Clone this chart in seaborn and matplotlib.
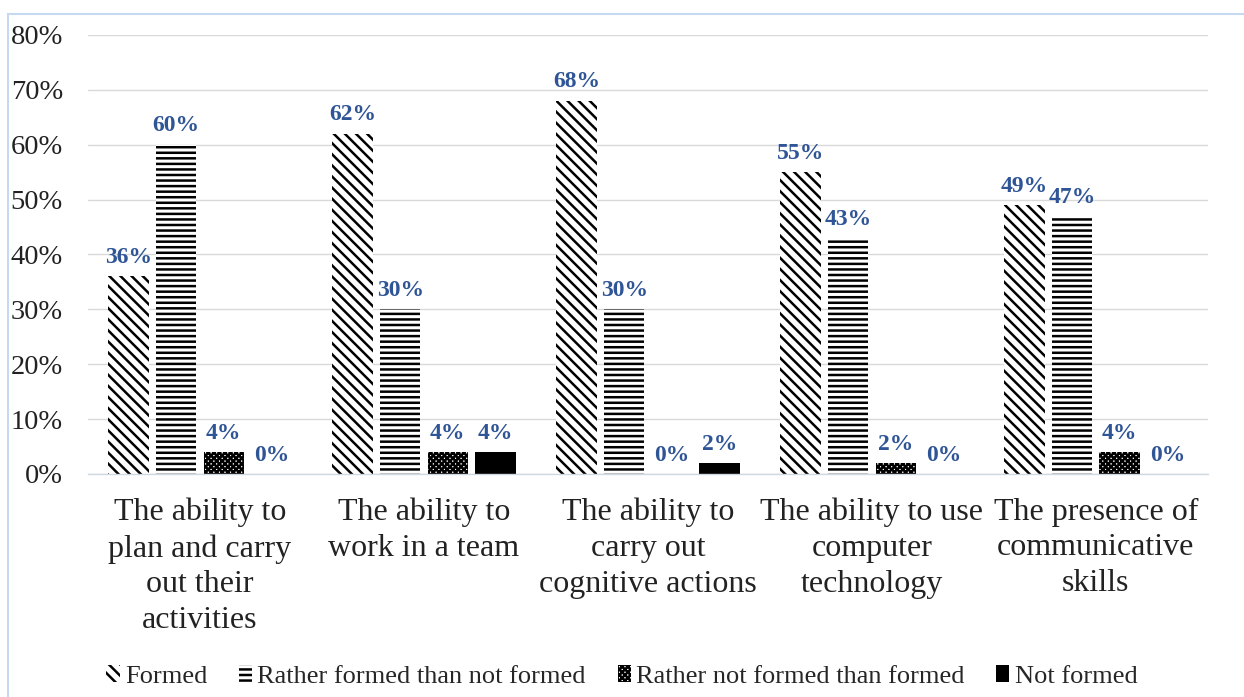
import matplotlib
matplotlib.use("Agg")
import matplotlib.pyplot as plt
import seaborn as sns
import pandas as pd
from matplotlib.patches import Rectangle, Patch
from matplotlib.ticker import FuncFormatter

categories = [
    "The ability to\nplan and carry\nout their\nactivities",
    "The ability to\nwork in a team",
    "The ability to\ncarry out\ncognitive actions",
    "The ability to use\ncomputer\ntechnology",
    "The presence of\ncommunicative\nskills",
]
series = ["Formed", "Rather formed than not formed",
          "Rather not formed than formed", "Not formed"]
formed = [36, 62, 68, 55, 49]
rather_formed = [60, 30, 30, 43, 47]
rather_not = [4, 4, 0, 2, 4]
not_formed = [0, 4, 2, 0, 0]
yticks = [0, 10, 20, 30, 40, 50, 60, 70, 80]

rows = []
for s, vals in zip(series, [formed, rather_formed, rather_not, not_formed]):
    for c, v in zip(categories, vals):
        rows.append({"category": c, "series": s, "value": v})
df = pd.DataFrame(rows)

sns.set_style("white")
plt.rcParams["font.family"] = ["Liberation Serif", "DejaVu Serif"]
plt.rcParams["hatch.linewidth"] = 1.8

fig = plt.figure(figsize=(12.44, 6.97), dpi=100)
ax = fig.add_axes([0.0707, 0.320, 0.9003, 0.630])

palette = {series[0]: "white", series[1]: "white", series[2]: "white", series[3]: "black"}
sns.barplot(data=df, x="category", y="value", hue="series", hue_order=series,
            order=categories, palette=palette, ax=ax, width=0.85, gap=0.15,
            edgecolor="black", linewidth=0, saturation=1, legend=False)

hatches = ["\\\\\\", "---", "xxxxxx", None]
for cont, h in zip(ax.containers, hatches):
    for bar in cont:
        if h:
            bar.set_hatch(h)
        bar.set_edgecolor("black")
        bar.set_linewidth(0)
    ax.bar_label(cont, labels=[f"{int(round(b.get_height()))}%" for b in cont],
                 padding=6, color="#2F5597", fontsize=17, fontweight="bold")

ax.set_ylim(0, 80)
ax.set_yticks(yticks)
ax.yaxis.set_major_formatter(FuncFormatter(lambda v, p: f"{int(v)}%"))
ax.grid(axis="y", color="#D9D9D9", linewidth=1)
ax.set_axisbelow(True)
for sp in ["top", "right", "left"]:
    ax.spines[sp].set_visible(False)
ax.spines["bottom"].set_color("#D0D8E2")
ax.spines["bottom"].set_linewidth(1)
ax.set_xlabel("")
ax.set_ylabel("")
ax.tick_params(axis="y", labelsize=20.5, pad=18, length=0, colors="#222222")
ax.tick_params(axis="x", labelsize=23, pad=17, length=0, colors="#222222")
for t in ax.get_xticklabels():
    t.set_linespacing(1.31)
ax.set_xlim(-0.5, 4.5)

fills = ["white", "white", "white", "black"]
handles = [Patch(facecolor=f, edgecolor="black", linewidth=0, hatch=h)
           for f, h in zip(fills, hatches)]
fig.legend(handles, series, loc="center", bbox_to_anchor=(0.5, 0.029), ncol=4,
           frameon=False, fontsize=19, handlelength=0.5, handleheight=0.6,
           handletextpad=0.2, columnspacing=1.2)

fig.patches.append(Rectangle((8 / 1244, -0.1), 1.2, 1 - 14 / 697 + 0.1,
                             transform=fig.transFigure, fill=False,
                             edgecolor="#C5DAF0", linewidth=1.5))

fig.savefig("out.png", dpi=100)
